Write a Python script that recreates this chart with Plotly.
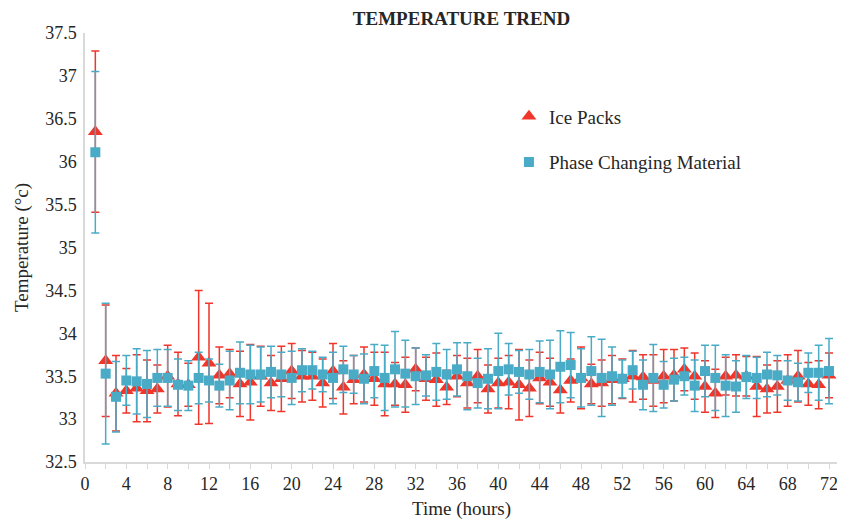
import plotly.graph_objects as go

hours = list(range(1, 73))

ice_packs = [36.35, 33.68, 33.30, 33.33, 33.36, 33.33, 33.35, 33.50, 33.41, 33.40,
             33.72, 33.65, 33.51, 33.53, 33.41, 33.43, 33.50, 33.42, 33.47, 33.56,
             33.50, 33.50, 33.42, 33.56, 33.37, 33.46, 33.52, 33.47, 33.41, 33.41,
             33.40, 33.58, 33.47, 33.46, 33.37, 33.50, 33.42, 33.50, 33.35, 33.42,
             33.43, 33.40, 33.36, 33.48, 33.43, 33.34, 33.45, 33.48, 33.41, 33.42,
             33.46, 33.47, 33.50, 33.49, 33.45, 33.50, 33.51, 33.58, 33.50, 33.38,
             33.30, 33.50, 33.51, 33.50, 33.38, 33.35, 33.38, 33.45, 33.50, 33.41,
             33.40, 33.51]
ice_err = [0.94, 0.65, 0.44, 0.26, 0.39, 0.36, 0.28, 0.36, 0.37, 0.25,
           0.78, 0.70, 0.33, 0.28, 0.38, 0.44, 0.35, 0.32, 0.38, 0.32,
           0.30, 0.28, 0.28, 0.32, 0.31, 0.28, 0.32, 0.31, 0.37, 0.25,
           0.32, 0.25, 0.25, 0.31, 0.20, 0.24, 0.29, 0.31, 0.28, 0.29,
           0.31, 0.41, 0.33, 0.30, 0.28, 0.27, 0.25, 0.36, 0.23, 0.27,
           0.28, 0.23, 0.30, 0.26, 0.30, 0.31, 0.30, 0.25, 0.27, 0.30,
           0.28, 0.22, 0.24, 0.23, 0.35, 0.28, 0.30, 0.30, 0.30, 0.25,
           0.28, 0.26]

pcm = [36.11, 33.53, 33.26, 33.45, 33.44, 33.41, 33.48, 33.48, 33.40, 33.39,
       33.48, 33.45, 33.39, 33.45, 33.54, 33.52, 33.52, 33.55, 33.52, 33.48,
       33.57, 33.57, 33.52, 33.48, 33.58, 33.52, 33.47, 33.56, 33.48, 33.58,
       33.53, 33.50, 33.51, 33.55, 33.52, 33.58, 33.50, 33.42, 33.47, 33.56,
       33.58, 33.55, 33.52, 33.55, 33.52, 33.61, 33.63, 33.48, 33.56, 33.48,
       33.50, 33.47, 33.57, 33.40, 33.48, 33.40, 33.46, 33.50, 33.39, 33.56,
       33.48, 33.39, 33.38, 33.49, 33.48, 33.52, 33.51, 33.45, 33.43, 33.54,
       33.54, 33.56]
pcm_err = [0.94, 0.82, 0.41, 0.29, 0.38, 0.39, 0.33, 0.33, 0.30, 0.29,
           0.30, 0.25, 0.25, 0.34, 0.36, 0.34, 0.32, 0.30, 0.26, 0.31,
           0.25, 0.22, 0.20, 0.30, 0.27, 0.22, 0.29, 0.31, 0.38, 0.44,
           0.39, 0.33, 0.24, 0.33, 0.29, 0.31, 0.39, 0.29, 0.35, 0.44,
           0.30, 0.25, 0.29, 0.36, 0.40, 0.42, 0.38, 0.34, 0.40, 0.45,
           0.34, 0.22, 0.22, 0.29, 0.39, 0.27, 0.25, 0.22, 0.30, 0.30,
           0.38, 0.36, 0.30, 0.25, 0.24, 0.26, 0.23, 0.23, 0.22, 0.23,
           0.32, 0.38]

RED = "#f0352a"
BLUE = "#4aabc6"
FONT = "Liberation Serif"
TXT = "#262626"

fig = go.Figure()
fig.add_trace(go.Scatter(
    x=hours, y=ice_packs, mode="markers", name="Ice Packs",
    legendgroup="a",
    marker=dict(symbol="triangle-up", size=13, color=RED),
    error_y=dict(type="data", array=ice_err, visible=True, color=RED,
                 thickness=1.5, width=4),
))
fig.add_trace(go.Scatter(
    x=hours, y=pcm, mode="markers", name="Phase Changing Material",
    legendgroup="b",
    marker=dict(symbol="square", size=10, color=BLUE),
    error_y=dict(type="data", array=pcm_err, visible=True, color=BLUE,
                 thickness=1.5, width=4),
))

# page body has an 8px margin: figure is sized/offset to compensate
W, H = 830, 512
fig.update_layout(
    width=W, height=H,
    margin=dict(l=77, r=0, t=25, b=58, autoexpand=False),
    paper_bgcolor="white", plot_bgcolor="white",
    font=dict(family=FONT, size=18, color=TXT),
    title=dict(text="<b>TEMPERATURE TREND</b>", x=0.5, xref="paper",
               y=1 - 10 / H, yanchor="middle",
               font=dict(family=FONT, size=19, color=TXT)),
    showlegend=True,
    legend=dict(x=0.563, y=0.85, xanchor="left", yanchor="top",
                traceorder="grouped", tracegroupgap=18,
                bgcolor="rgba(0,0,0,0)",
                font=dict(family=FONT, size=19, color=TXT)),
    xaxis=dict(range=[0, 72.87], dtick=4, tick0=0, showgrid=False,
               automargin=False, ticklabeloverflow="allow",
               showline=True, linecolor="#d9d9d9", linewidth=1.5,
               ticks="outside", ticklen=5, tickcolor="#d9d9d9",
               minor=dict(dtick=2, ticks="outside", ticklen=5, tickcolor="#d9d9d9"),
               zeroline=False, tickfont=dict(size=18),
               title=dict(text="Time (hours)", standoff=8, font=dict(size=19))),
    yaxis=dict(range=[32.5, 37.5], dtick=0.5, showgrid=False,
               automargin=False, ticklabelstandoff=3,
               showline=True, linecolor="#d9d9d9", linewidth=1.5,
               ticks="", zeroline=False, tickfont=dict(size=18),
               title=dict(text="Temperature (°c)", standoff=12, font=dict(size=19))),
)

fig.write_html("out.html")
